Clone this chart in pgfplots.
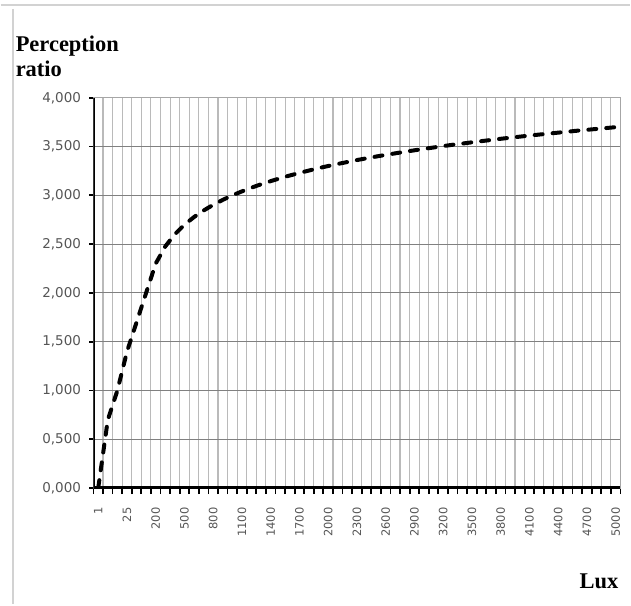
\documentclass[border=0pt]{standalone}
\usepackage{fontspec}
\setmainfont{Liberation Serif}
\newfontfamily\ticksans{DejaVu Sans}
\usepackage{pgfplots}
\pgfplotsset{compat=1.18}

\definecolor{vgrid}{HTML}{BABABA}
\definecolor{hgrid}{HTML}{808080}
\definecolor{ticktext}{HTML}{555555}
\definecolor{frame}{HTML}{D2D2D2}

% perception ratio per lux category (categories plotted at 0..54)
\pgfplotstableread{
idx lux  ratio
0   1    0.000
1   5    0.699
2   10   1.000
3   25   1.398
4   50   1.699
5   100  2.000
6   200  2.301
7   300  2.477
8   400  2.602
9   500  2.699
10  600  2.778
11  700  2.845
12  800  2.903
13  900  2.954
14  1000 3.000
15  1100 3.041
16  1200 3.079
17  1300 3.114
18  1400 3.146
19  1500 3.176
20  1600 3.204
21  1700 3.230
22  1800 3.255
23  1900 3.279
24  2000 3.301
25  2100 3.322
26  2200 3.342
27  2300 3.362
28  2400 3.380
29  2500 3.398
30  2600 3.415
31  2700 3.431
32  2800 3.447
33  2900 3.462
34  3000 3.477
35  3100 3.491
36  3200 3.505
37  3300 3.519
38  3400 3.531
39  3500 3.544
40  3600 3.556
41  3700 3.568
42  3800 3.580
43  3900 3.591
44  4000 3.602
45  4100 3.613
46  4200 3.623
47  4300 3.633
48  4400 3.643
49  4500 3.653
50  4600 3.663
51  4700 3.672
52  4800 3.681
53  4900 3.690
54  5000 3.699
}\perception

\begin{document}
\begin{tikzpicture}
% page size and outer chart frame
\path (0pt,0pt) rectangle (631pt,605pt);
\draw[frame, line width=1.2pt] (0pt,600pt) -- (631pt,600pt);
\draw[frame, line width=2.5pt] (12.5pt,596pt) -- (12.5pt,0pt);

\begin{axis}[
    at={(93pt,116pt)}, anchor=south west,
    scale only axis,
    width=528pt, height=391pt,
    xmin=-0.5, xmax=54.5,
    ymin=0, ymax=4,
    xtick={0,3,...,54},
    xticklabels={1,25,200,500,800,1100,1400,1700,2000,2300,2600,2900,3200,3500,3800,4100,4400,4700,5000},
    minor xtick={-0.5,0.5,...,54.5},
    ytick={0,0.5,...,4},
    major x tick style={draw=none},
    every minor tick/.append style={black, line width=1.8pt},
    y tick style={black, line width=1.8pt},
    minor tick length=6pt,
    major tick length=4pt,
    tick align=outside,
    xtick pos=bottom, ytick pos=left,
    xminorgrids=true, ymajorgrids=true,
    minor x grid style={vgrid, line width=1.1pt},
    major y grid style={hgrid, line width=1pt},
    axis line style={draw=gray!70, line width=0.8pt},
    /pgf/number format/assume math mode=true,
    y tick label style={/pgf/number format/fixed, /pgf/number format/fixed zerofill,
        /pgf/number format/precision=3, /pgf/number format/use comma, /pgf/number format/1000 sep={}},
    yticklabel style={font=\ticksans\fontsize{13.5}{15}\selectfont, text=ticktext, xshift=-5pt},
    xticklabel shift=12pt,
    xticklabel style={font=\ticksans\fontsize{11.5}{13}\selectfont, text=ticktext, rotate=90, anchor=east},
]
\addplot[black, line width=4pt, line cap=round, dash pattern=on 8pt off 10pt]
    table[x=idx, y=ratio] {\perception};
\draw[black, line width=3.5pt] (rel axis cs:0,1) -- (rel axis cs:0,0) -- (rel axis cs:1,0);
\end{axis}

\node[anchor=base west, font=\bfseries\fontsize{22.5}{26}\selectfont, inner sep=0pt] at (15pt,553pt) {Perception};
\node[anchor=base west, font=\bfseries\fontsize{22.5}{26}\selectfont, inner sep=0pt] at (15pt,528pt) {ratio};
\node[anchor=base west, font=\bfseries\fontsize{22.5}{26}\selectfont, inner sep=0pt] at (580pt,15pt) {Lux};
\end{tikzpicture}
\end{document}
